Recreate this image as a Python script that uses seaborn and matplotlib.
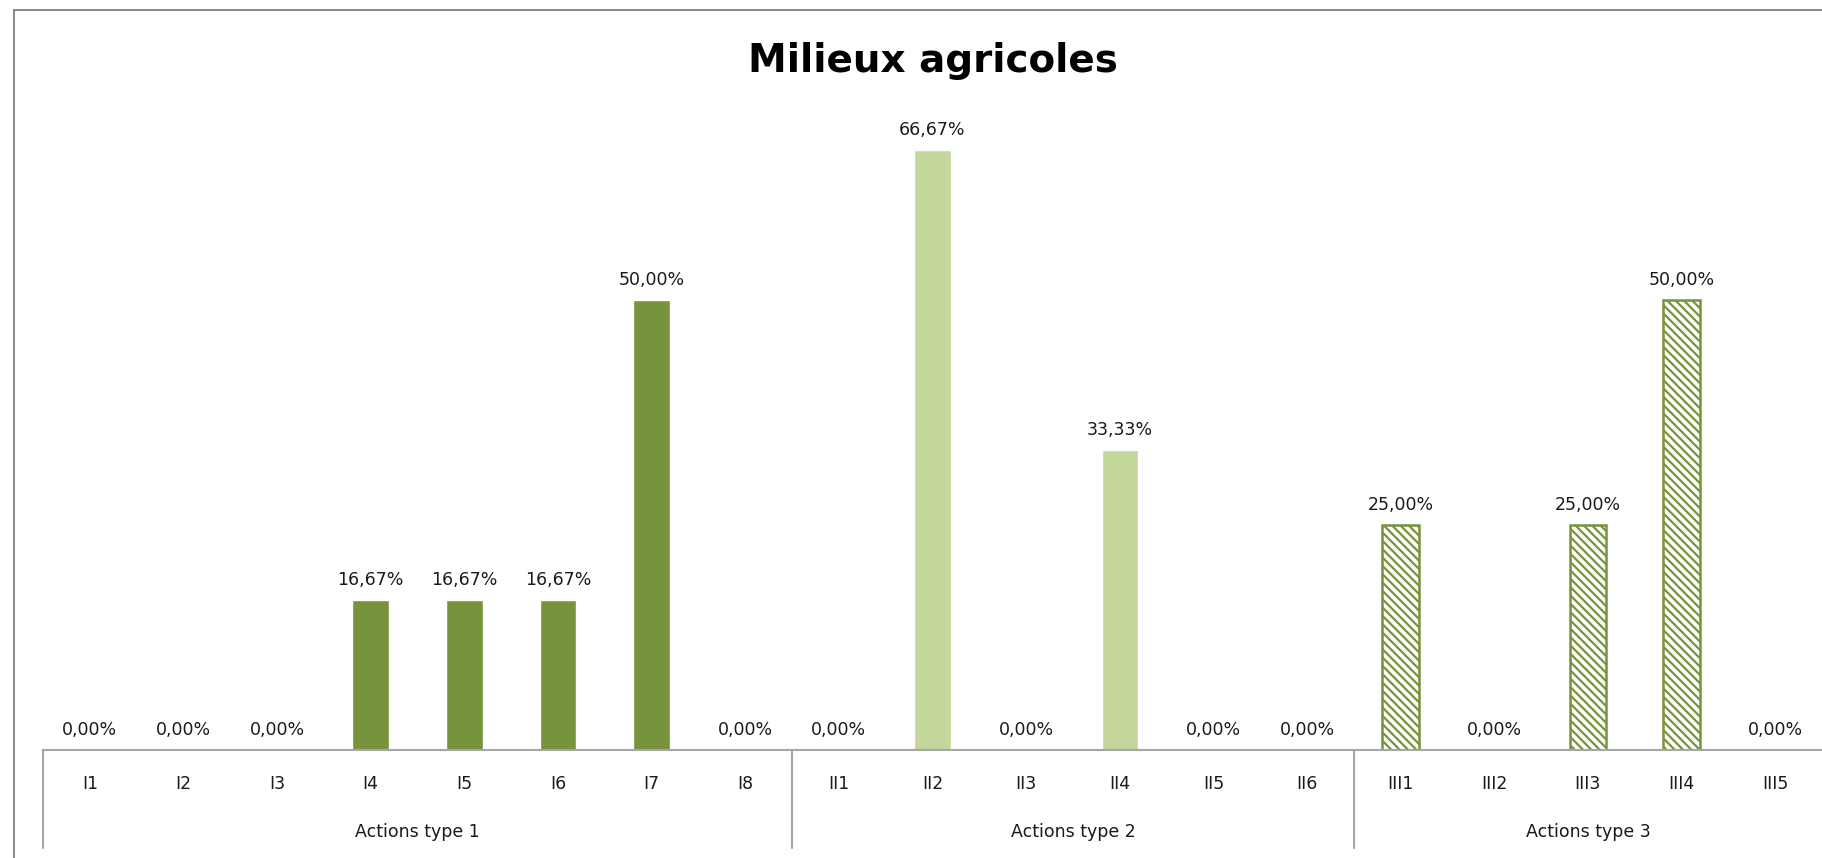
import seaborn as sns
import matplotlib.pyplot as plt
import pandas as pd
from matplotlib.lines import Line2D

# categories and values (%)
actions = ['I1', 'I2', 'I3', 'I4', 'I5', 'I6', 'I7', 'I8',
           'II1', 'II2', 'II3', 'II4', 'II5', 'II6',
           'III1', 'III2', 'III3', 'III4', 'III5']
groupes = ['Actions type 1'] * 8 + ['Actions type 2'] * 6 + ['Actions type 3'] * 5
valeurs = [0, 0, 0, 16.67, 16.67, 16.67, 50.00, 0,
           0, 66.67, 0, 33.33, 0, 0,
           25.00, 0, 25.00, 50.00, 0]
noms_groupes = ['Actions type 1', 'Actions type 2', 'Actions type 3']
couleurs = {'Actions type 1': '#77933C', 'Actions type 2': '#C3D69B', 'Actions type 3': '#FFFFFF'}

datos = pd.DataFrame({'action': actions, 'groupe': groupes, 'valeur': valeurs})

sns.set_style('white')
plt.rcParams['font.family'] = ['DejaVu Sans']
plt.rcParams['hatch.linewidth'] = 1.6
texte = '#1a1a1a'

fig = plt.figure(figsize=(18.22, 8.58), dpi=100)
ax = fig.add_axes([43 / 1822, 108 / 858, 1 - 43 / 1822, 675 / 858])

sns.barplot(data=datos, x='action', y='valeur', hue='groupe', dodge=False,
            palette=couleurs, width=0.39, legend=False, ax=ax, saturation=1)

# hachures pour le type 3
for bar in ax.containers[2]:
    bar.set_edgecolor('#77933C')
    bar.set_hatch('\\\\\\\\')
    bar.set_linewidth(1.8)

for cont in ax.containers:
    labs = [f"{b.get_height():.2f}".replace('.', ',') + '%' for b in cont]
    ax.bar_label(cont, labels=labs, padding=8, fontsize=12.5, color=texte)

ax.set_ylim(0, 75)
ax.set_xlim(-0.5, len(actions) - 0.5)
ax.set_yticks([])
ax.set_xlabel('')
ax.set_ylabel('')
for s in ['left', 'right', 'top']:
    ax.spines[s].set_visible(False)
ax.spines['bottom'].set_color('#A6A6A6')
ax.spines['bottom'].set_linewidth(1.5)
ax.tick_params(axis='x', length=0, pad=18, labelsize=12.5, labelcolor=texte)

# séparateurs et libellés des groupes
tr = ax.get_xaxis_transform()
debut = 0
for nom in noms_groupes:
    n = groupes.count(nom)
    ax.plot([debut - 0.5, debut - 0.5], [0, -98 / 675], color='#A6A6A6', lw=1.5,
            transform=tr, clip_on=False)
    ax.text(debut + (n - 1) / 2, -82 / 675, nom, transform=tr, ha='center', va='center',
            fontsize=12.5, color=texte)
    debut += n

ax.set_title('Milieux agricoles', fontsize=28, fontweight='bold', color='black', pad=2, y=1.0)

# cadre du graphique
fig.add_artist(Line2D([14 / 1822, 14 / 1822], [0, 1 - 10 / 858], color='#8C8C8C', lw=1.5))
fig.add_artist(Line2D([14 / 1822, 1], [1 - 10 / 858, 1 - 10 / 858], color='#8C8C8C', lw=1.5))

fig.savefig('out.png', dpi=100)
